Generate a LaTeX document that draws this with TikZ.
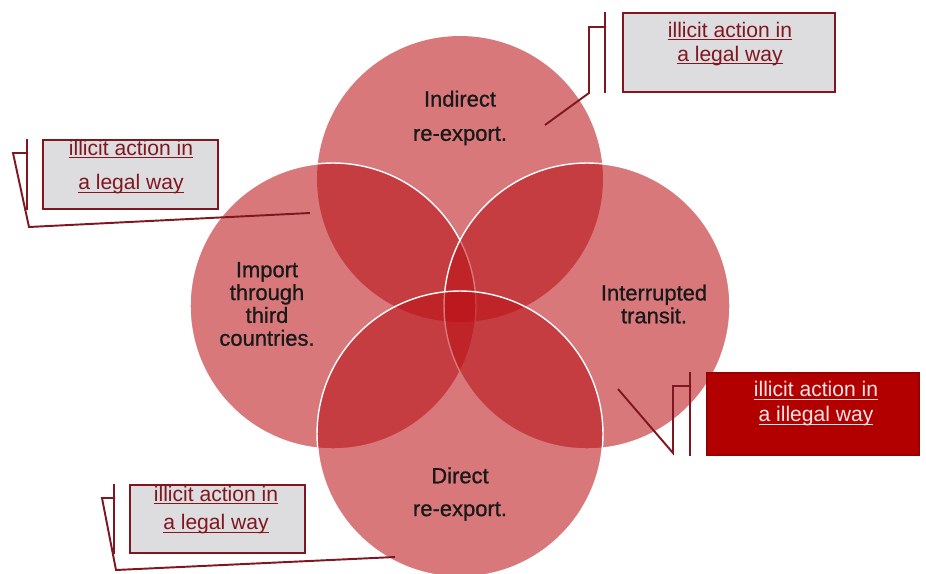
\documentclass[tikz,border=0pt]{standalone}
\usepackage{fontspec}
\setmainfont{Liberation Sans}
\newfontfamily\circfont[FakeBold=0.9]{Liberation Sans}
\usepackage{xcolor}
\usepackage{tikz}
\usetikzlibrary{positioning}
\usetikzlibrary{calc}
\definecolor{vennred}{RGB}{185,15,20}
\definecolor{leadred}{RGB}{128,22,32}
\definecolor{notegray}{RGB}{221,221,224}
\definecolor{alertred}{RGB}{178,0,0}
\definecolor{palepink}{RGB}{250,228,228}
\newcommand{\noteline}[1]{\leavevmode\setbox0=\hbox{#1}\rlap{\rule[-1.6pt]{\wd0}{0.6pt}}\box0}
\tikzstyle{bigcircle}=[circle,fill=vennred,fill opacity=0.56,minimum size=5.72cm,inner sep=0pt]
\tikzstyle{rim}=[draw=white,line width=0.8pt]
\tikzstyle{circtext}=[align=center,text=black!90,font=\circfont\fontsize{12.5}{13}\selectfont]
\tikzstyle{legalbox}=[rectangle,draw=leadred,line width=1.2pt,fill=notegray]
\tikzstyle{illegalbox}=[rectangle,draw=alertred!85!black,line width=1.2pt,fill=alertred]
\tikzstyle{notetext}=[align=center,text=leadred,font=\fontsize{12}{13.6}\selectfont]
\tikzstyle{lead} = [draw=leadred,line width=1.1pt]
\tikzstyle{bar} = [draw=leadred,line width=1.4pt]

\begin{document}
\begin{tikzpicture}[x=0.02cm,y=-0.02cm]
 \useasboundingbox (0,0) rectangle (926,574);

 %circles
 \node[bigcircle] (indirect) at (460,179) {};
 \foreach \x/\y/\name in {333/306/import, 587/306/transit, 460/434/direct}
   \node[bigcircle,rim] (\name) at (\x,\y) {};

 \node[circtext] (indirectText) at (460,118) {Indirect\\[6.5pt]re-export.};
 \node[circtext] (importText) at (267,304) {Import\\through\\third\\countries.};
 \node[circtext] (transitText) at (654,304) {Interrupted\\transit.};
 \node[circtext] (directText) at (460,494) {Direct\\[5.7pt]re-export.};

 %notes
 \foreach \x/\y/\w/\h/\name in {729/52.5/4.24/1.58/noteTR, 130.5/174.5/3.5/1.38/noteL, 217.5/519/3.5/1.36/noteBL}
   \node[legalbox,minimum width=\w cm,minimum height=\h cm] (\name) at (\x,\y) {};
 \node[illegalbox,minimum width=4.24cm,minimum height=1.64cm] (noteR) at (813,414) {};

 \node[notetext] (noteTRText) at (730,44) {\noteline{illicit action in}\\\noteline{a legal way}};
 \node[notetext] (noteLText) at (131,167) {\noteline{illicit action in}\\[6.2pt]\noteline{a legal way}};
 \node[notetext] (noteBLText) at (216,510) {\noteline{illicit action in}\\[2.8pt]\noteline{a legal way}};
 \node[notetext,text=palepink] (noteRText) at (816,404) {\noteline{illicit action in}\\[0.6pt]\noteline{a illegal way}};

 %bars
 \draw[bar] ([xshift=-0.34cm]noteTR.north west) -- ([xshift=-0.34cm]noteTR.south west);
 \draw[bar] ([xshift=-0.3cm]noteL.north west) -- ([xshift=-0.3cm]noteL.south west);
 \draw[bar] ([xshift=-0.32cm]noteR.north west) -- ([xshift=-0.32cm]noteR.south west);
 \draw[bar] ([xshift=-0.3cm]noteBL.north west) -- ([xshift=-0.3cm]noteBL.south west);

 %lead lines
 \foreach \x/\y/\name in {545/125/trA, 589/93/trB, 589/27/trC, 606/27/trD}
   \coordinate (\name) at (\x,\y);
 \foreach \x/\y/\name in {310/213/lA, 29/227/lB, 13/153/lC, 28/153/lD}
   \coordinate (\name) at (\x,\y);
 \foreach \x/\y/\name in {618/389/rA, 673/453/rB, 673/386/rC, 691/386/rD}
   \coordinate (\name) at (\x,\y);
 \foreach \x/\y/\name in {395/557/blA, 116/570/blB, 102/498/blC, 115/498/blD}
   \coordinate (\name) at (\x,\y);

 \foreach \n in {tr, l, r, bl}
   \draw[lead] (\n A) -- (\n B) -- (\n C) -- (\n D);

\end{tikzpicture}
\end{document}
